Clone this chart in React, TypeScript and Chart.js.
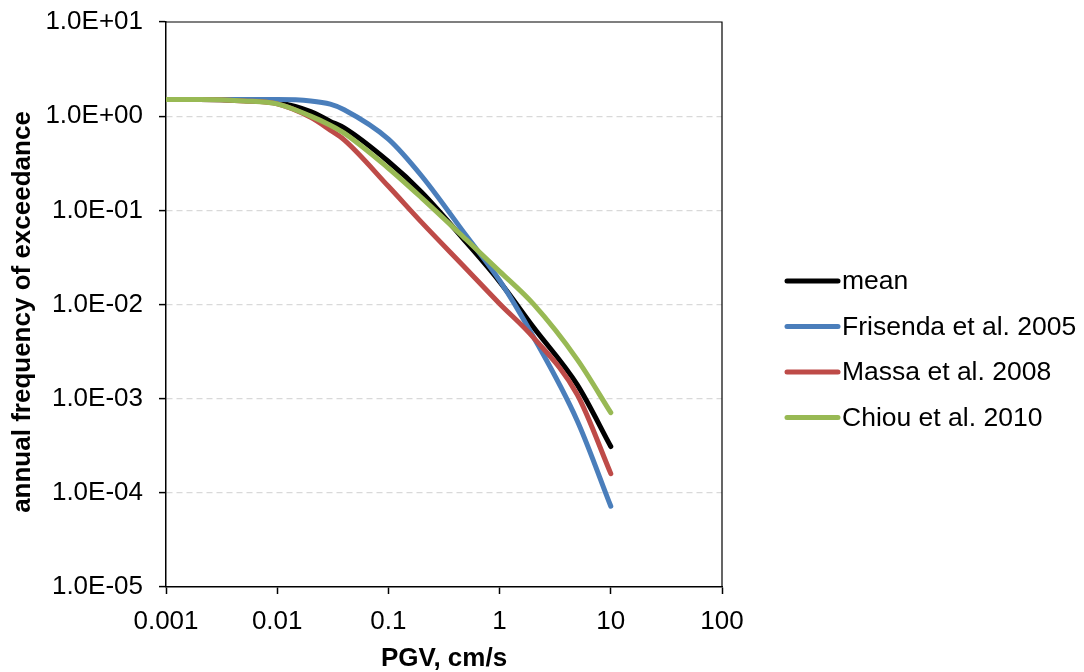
import React, { useEffect, useRef } from "react";
import { Chart, registerables } from "chart.js";

Chart.register(...registerables);

// PGV (cm/s) sample points
const pgv = [0.001, 0.002, 0.005, 0.01, 0.02, 0.03, 0.04, 0.1, 0.2, 0.5, 1, 2, 5, 10];

// annual frequency of exceedance per model
const meanValues = [1.5, 1.5, 1.47, 1.4, 1.12, 0.88, 0.75, 0.33, 0.155, 0.046, 0.0175, 0.0058, 0.0014, 0.00031];
const frisendaValues = [1.5, 1.5, 1.5, 1.5, 1.45, 1.34, 1.17, 0.57, 0.23, 0.054, 0.018, 0.0046, 0.00058, 0.000072];
const massaValues = [1.5, 1.5, 1.45, 1.35, 0.97, 0.71, 0.56, 0.18, 0.074, 0.024, 0.0102, 0.0045, 0.0011, 0.00016];
const chiouValues = [1.5, 1.5, 1.45, 1.35, 1.0, 0.8, 0.66, 0.28, 0.135, 0.049, 0.0225, 0.0102, 0.0026, 0.00071];

const seriesLabels = ["mean", "Frisenda et al. 2005", "Massa et al. 2008", "Chiou et al. 2010"];
const seriesValues = [meanValues, frisendaValues, massaValues, chiouValues];
const seriesColors = ["#000000", "#4A7EBB", "#BE4B48", "#98B954"];

const xTickValues = [0.001, 0.01, 0.1, 1, 10, 100];
const xTickLabels = ["0.001", "0.01", "0.1", "1", "10", "100"];
const yTickValues = [1e-5, 1e-4, 1e-3, 1e-2, 1e-1, 1, 10];
const yTickLabels = ["1.0E-05", "1.0E-04", "1.0E-03", "1.0E-02", "1.0E-01", "1.0E+00", "1.0E+01"];

const xTitle = "PGV, cm/s";
const yTitle = "annual frequency of exceedance";

const FONT = '"Liberation Sans", Arial, Helvetica, sans-serif';

const sideLegend = {
  id: "sideLegend",
  afterDraw(chart: any) {
    const ctx = chart.ctx;
    ctx.save();
    chart.data.datasets.forEach((ds: any, i: number) => {
      const y = 281 + i * 45.5;
      ctx.strokeStyle = ds.borderColor;
      ctx.lineWidth = 5;
      ctx.lineCap = "round";
      ctx.beginPath();
      ctx.moveTo(787, y);
      ctx.lineTo(838, y);
      ctx.stroke();
      ctx.fillStyle = "#000";
      ctx.font = `26.5px ${FONT}`;
      ctx.textAlign = "left";
      ctx.textBaseline = "middle";
      ctx.fillText(ds.label, 842, y + 1);
    });
    ctx.restore();
  },
};

const frameAndTitle = {
  id: "frameAndTitle",
  afterDraw(chart: any) {
    const { left, right, top, bottom } = chart.chartArea;
    const ctx = chart.ctx;
    ctx.save();
    ctx.strokeStyle = "#000";
    ctx.lineWidth = 1.2;
    ctx.beginPath();
    ctx.moveTo(left, top);
    ctx.lineTo(right, top);
    ctx.lineTo(right, bottom);
    ctx.stroke();
    // y-axis title
    ctx.translate(23, 312);
    ctx.rotate(-Math.PI / 2);
    ctx.fillStyle = "#000";
    ctx.font = `bold 26px ${FONT}`;
    ctx.textAlign = "center";
    ctx.textBaseline = "middle";
    ctx.fillText(yTitle, 0, 0);
    ctx.restore();
  },
};

export default function App() {
  const ref = useRef<HTMLCanvasElement | null>(null);

  useEffect(() => {
    if (!ref.current) return;
    const chart = new Chart(ref.current, {
      type: "line",
      data: {
        datasets: seriesLabels.map((label, i) => ({
          label,
          data: pgv.map((x, j) => ({ x, y: seriesValues[i][j] })),
          borderColor: seriesColors[i],
          backgroundColor: seriesColors[i],
          borderWidth: 5,
          pointRadius: 0,
          borderCapStyle: "round" as const,
          borderJoinStyle: "round" as const,
          cubicInterpolationMode: "monotone" as const,
          fill: false,
          order: seriesLabels.length - i,
        })),
      },
      options: {
        animation: false,
        responsive: false,
        devicePixelRatio: 1,
        layout: { padding: { top: 22, right: 362, left: 0, bottom: 0 } },
        plugins: {
          legend: { display: false },
          tooltip: { enabled: false },
        },
        scales: {
          x: {
            type: "logarithmic",
            min: 0.001,
            max: 100,
            afterBuildTicks: (scale: any) => {
              scale.ticks = xTickValues.map((v) => ({ value: v }));
            },
            afterFit: (scale: any) => {
              scale.height = 85;
              scale.paddingLeft = 0;
              scale.paddingRight = 0;
            },
            ticks: {
              autoSkip: false,
              maxRotation: 0,
              padding: 12,
              color: "#000",
              font: { family: FONT, size: 26 },
              callback: (_v: any, i: number) => xTickLabels[i],
            },
            grid: {
              drawOnChartArea: false,
              drawTicks: true,
              tickLength: 7,
              tickColor: "#000",
              tickWidth: 1.5,
            },
            border: { display: true, color: "#000", width: 1.5 },
            title: {
              display: true,
              text: xTitle,
              color: "#000",
              font: { family: FONT, size: 26, weight: "bold", lineHeight: 1.05 },
              padding: { top: 0, bottom: 0 },
            },
          },
          y: {
            type: "logarithmic",
            min: 1e-5,
            max: 10,
            afterBuildTicks: (scale: any) => {
              scale.ticks = yTickValues.map((v) => ({ value: v }));
            },
            afterFit: (scale: any) => {
              scale.width = 166;
              scale.paddingTop = 0;
              scale.paddingBottom = 0;
            },
            ticks: {
              autoSkip: false,
              padding: 16,
              color: "#000",
              font: { family: FONT, size: 26 },
              callback: (_v: any, i: number) => yTickLabels[i],
            },
            grid: {
              drawOnChartArea: true,
              drawTicks: true,
              tickLength: 7,
              tickColor: "#000",
              tickWidth: 1.5,
              lineWidth: 1.2,
              color: (c: any) =>
                c.tick && (c.tick.value === 1e-5 || c.tick.value === 10) ? "rgba(0,0,0,0)" : "#D9D9D9",
            },
            border: { display: true, color: "#000", width: 1.5, dash: [6, 4] },
            title: { display: false },
          },
        },
      },
      plugins: [frameAndTitle, sideLegend],
    } as any);
    return () => chart.destroy();
  }, []);

  return (
    <div style={{ position: "fixed", left: 0, top: 0, width: 1084, height: 672, background: "#fff" }}>
      <canvas ref={ref} width={1084} height={672} style={{ display: "block" }} />
    </div>
  );
}
